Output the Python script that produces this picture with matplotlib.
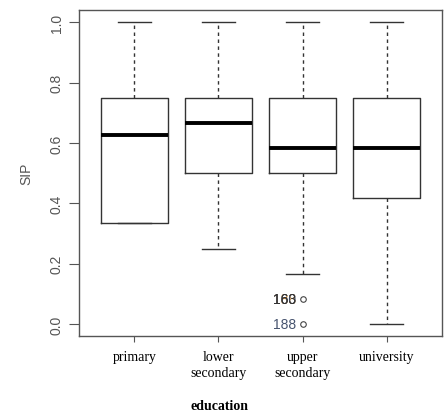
import matplotlib.pyplot as plt

# box statistics
categories = ['primary', 'lower\nsecondary', 'upper\nsecondary', 'university']
q1 = [0.333, 0.5, 0.5, 0.417]
med = [0.625, 0.667, 0.583, 0.583]
q3 = [0.75, 0.75, 0.75, 0.75]
whislo = [0.333, 0.25, 0.167, 0.0]
whishi = [1.0, 1.0, 1.0, 1.0]
fliers = [[], [], [0.083, 0.0], []]

# outlier labels (upper secondary), several overlapping ids at 0.083
out_labels = [(0.083, '188', '#c08030'), (0.083, '160', '#3a4660'),
              (0.083, '163', '#333333'), (0.0, '188', '#46536e')]

stats = []
for i in range(len(categories)):
    stats.append(dict(q1=q1[i], med=med[i], q3=q3[i], whislo=whislo[i],
                      whishi=whishi[i], fliers=fliers[i]))

fig = plt.figure(figsize=(4.48, 4.14), dpi=100)
ax = fig.add_axes([0.176, 0.186, 0.811, 0.787])

ax.bxp(stats, positions=[1, 2, 3, 4], widths=0.8, showcaps=True,
       boxprops=dict(color='#333333', lw=1.0),
       medianprops=dict(color='black', lw=2.8),
       whiskerprops=dict(color='#333333', lw=1.0, ls=(0, (2.5, 2.5))),
       capprops=dict(color='#333333', lw=1.0),
       flierprops=dict(marker='o', markersize=4, markerfacecolor='none',
                       markeredgecolor='#444444', markeredgewidth=0.8))

for y, t, c in out_labels:
    ax.text(2.92, y, t, ha='right', va='center', fontsize=10,
            family='Liberation Sans', color=c)

ax.set_xlim(0.34, 4.66)
ax.set_ylim(-0.04, 1.04)
ax.set_yticks([0.0, 0.2, 0.4, 0.6, 0.8, 1.0])
ax.set_yticklabels(['0.0', '0.2', '0.4', '0.6', '0.8', '1.0'], rotation=90,
                   va='center', family='Liberation Sans', fontsize=10, color='#555555')
ax.set_xticks([1, 2, 3, 4])
ax.set_xticklabels(categories, family='Liberation Serif', fontsize=10,
                   va='top', linespacing=1.3)
ax.tick_params(axis='y', length=7, color='#555555', pad=4)
ax.tick_params(axis='x', length=4, color='#555555', pad=6)
for s in ax.spines.values():
    s.set_color('#555555')
    s.set_linewidth(1.0)

ax.set_ylabel('SIP', family='Liberation Sans', fontsize=10, color='#555555', labelpad=12)
fig.text(0.49, 0.017, 'education', ha='center', va='center',
         family='Liberation Serif', fontsize=10, fontweight='bold')

fig.savefig('out.png', dpi=100)
